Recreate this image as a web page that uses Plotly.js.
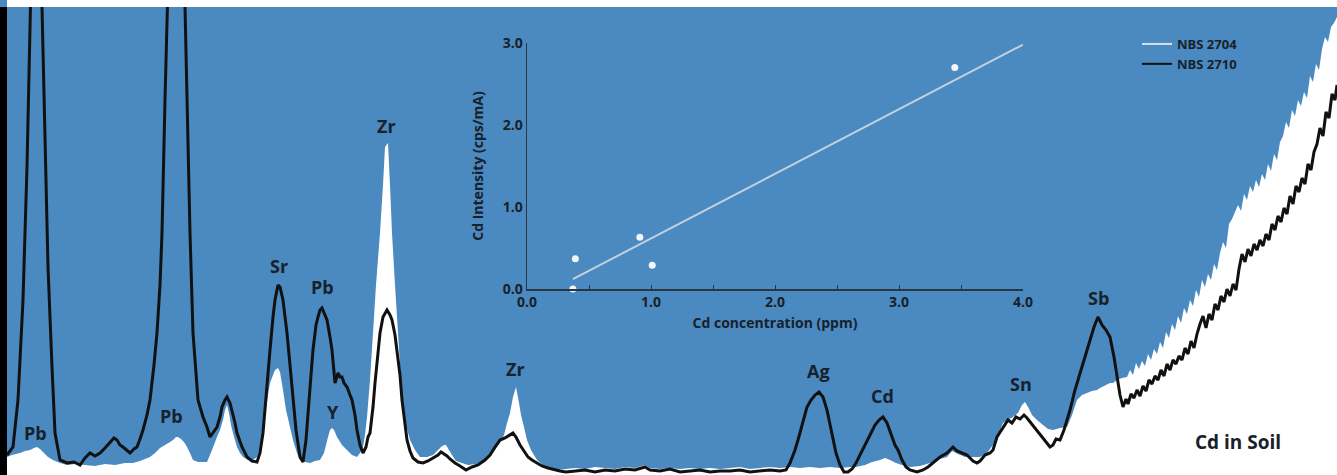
<!DOCTYPE html>
<html>
<head>
<meta charset="utf-8">
<script src="https://cdn.plot.ly/plotly-3.0.1.min.js"></script>
<style>
html,body{margin:0;padding:0;background:#fff;}
#chart{width:1337px;height:475px;}
</style>
</head>
<body>
<div id="chart"></div>
<script>
// ---- Spectrum data (channel, intensity in arbitrary counts) ----
const ch2704 = [7,12,20,25,30,34,37,40,43,48,53,60,67,75,85,95,105,115,125,133,140,145,150,155,160,165,170,173,176,178,181,184,187,190,193,198,203,207,212,217,220,223,225,227,229,231,233,237,240,243,248,253,257,260,263,266,268,270,273,275,278,280,283,286,290,293,297,300,305,310,315,320,324,328,330,332,334,337,342,347,352,357,360,363,365,367,370,373,376,380,383,385,388,390,392,395,398,400,403,406,410,415,420,427,433,438,441,444,446,449,452,456,462,468,475,483,490,495,500,504,507,510,513,516,519,521,524,527,531,537,543,550,558,566,575,585,595,605,615,625,635,645,650,660,670,680,690,700,710,720,730,740,750,760,770,780,790,800,810,820,830,840,850,856,865,872,880,885,890,896,902,910,920,930,940,947,952,958,965,972,980,987,993,998,1003,1008,1013,1018,1022,1025,1028,1032,1037,1043,1048,1053,1060,1067,1072,1077,1082,1087,1092,1097,1100,1106,1110,1113,1117,1122,1127,1130,1133,1136,1139,1142,1145,1148,1151,1154,1157,1160,1163,1166,1169,1172,1175,1178,1181,1184,1187,1190,1193,1196,1199,1202,1205,1208,1211,1214,1217,1220,1223,1226,1229,1232,1235,1238,1241,1244,1247,1250,1253,1256,1259,1262,1265,1268,1271,1274,1277,1280,1283,1286,1289,1292,1295,1298,1301,1304,1307,1310,1313,1316,1319,1322,1325,1328,1331,1334,1337];
const int2704 = [18,20,22,24,25,27,28,26,23,18,15,12,10,11,10,9,11,10,12,12,14,16,18,22,27,30,33,35,38,38,36,33,28,22,15,13,13,13,25,38,45,55,65,70,62,50,42,28,22,18,15,15,18,25,42,65,80,92,100,105,107,103,85,65,48,35,22,15,13,12,14,15,22,38,45,47,45,38,30,25,20,18,22,28,40,58,95,142,190,242,290,328,332,290,242,190,142,110,75,50,35,25,18,18,20,25,28,30,30,25,20,14,12,10,11,12,18,25,32,40,52,62,78,88,72,60,48,35,25,15,10,7,5,6,7,6,8,7,6,8,7,10,7,6,7,6,7,6,7,6,7,8,6,7,8,7,8,7,8,7,8,7,8,8,10,13,15,17,15,12,10,8,9,12,16,18,24,21,18,18,18,22,30,40,52,55,58,62,70,73,68,60,55,50,46,45,47,48,60,75,80,82,84,85,87,90,92,92,95,97,98,105,100,112,106,114,109,121,115,126,121,133,127,143,137,151,145,159,152,167,161,175,169,185,178,195,188,201,195,211,205,222,233,227,251,256,263,270,264,281,275,289,283,295,288,301,295,311,304,321,315,333,339,353,347,365,359,375,369,383,377,399,393,411,405,426,438,433,448,452,458];

const ch2710 = [7,13,18,23,27,30,36,42,45,48,52,55,60,67,74,80,85,90,95,100,105,110,114,117,120,123,127,130,134,137,140,143,147,150,154,157,160,162,165,168,176,185,187,190,193,198,203,207,210,213,217,220,222,225,227,230,232,235,237,242,247,252,257,260,263,266,270,273,275,278,280,283,287,290,293,296,300,303,306,308,311,313,316,318,320,322,325,327,330,332,335,337,338,340,342,344,347,350,352,355,357,360,363,366,368,370,373,375,378,380,383,387,390,392,395,397,400,402,405,407,410,413,418,423,428,433,438,441,444,447,450,455,460,466,472,478,485,490,495,500,505,510,513,516,520,524,528,532,537,542,548,555,560,566,575,585,595,605,615,625,635,645,650,660,670,680,690,700,710,720,730,740,750,760,770,780,786,790,795,798,803,807,811,815,819,823,827,831,836,840,844,848,852,856,860,865,869,875,879,883,887,891,895,898,902,906,910,917,923,928,933,940,947,953,957,962,967,973,977,980,985,990,993,997,1003,1008,1012,1016,1020,1024,1027,1031,1037,1042,1047,1050,1053,1056,1060,1064,1067,1070,1075,1080,1085,1088,1090,1094,1098,1102,1106,1110,1114,1117,1120,1123,1126,1128,1131,1134,1137,1140,1143,1146,1149,1152,1155,1158,1161,1164,1167,1170,1173,1176,1179,1182,1185,1188,1191,1194,1197,1200,1203,1206,1209,1212,1215,1218,1221,1224,1227,1230,1233,1236,1239,1242,1245,1248,1251,1254,1257,1260,1263,1266,1269,1272,1275,1278,1281,1284,1287,1290,1293,1296,1299,1302,1305,1308,1311,1314,1317,1320,1323,1326,1329,1332,1335,1337];
const int2710 = [20,28,75,175,308,442,725,468,342,208,108,42,15,12,13,10,17,22,19,22,27,32,37,35,30,28,24,22,26,28,36,45,60,75,110,142,190,242,375,468,800,468,375,242,142,75,58,48,38,42,48,58,68,75,78,72,65,52,42,28,18,14,13,22,42,80,125,158,175,190,188,175,142,110,75,45,18,13,35,58,100,125,150,158,165,167,160,155,138,125,92,100,102,98,98,92,88,80,75,60,45,30,22,28,38,42,68,92,125,142,158,165,160,155,140,125,100,75,50,35,24,17,13,12,14,17,20,23,21,19,16,12,9,5,8,10,15,20,28,35,37,40,42,38,30,24,18,15,12,9,7,5,4,3,4,5,3,5,4,6,5,8,5,4,6,3,4,5,3,4,4,5,3,4,5,4,5,12,25,35,55,68,75,80,83,78,65,45,22,10,3,3,6,12,20,30,38,50,55,58,52,42,30,25,15,8,5,3,5,8,12,18,22,28,24,22,20,14,12,14,20,22,25,38,48,55,52,58,56,60,57,52,45,38,32,28,30,36,35,45,55,65,85,102,118,130,135,148,158,150,145,138,118,98,80,68,76,71,81,77,85,79,89,84,95,91,99,95,105,99,111,105,115,111,119,115,127,121,134,127,141,151,159,147,161,155,171,165,179,173,186,179,191,185,206,221,213,226,219,231,225,235,229,241,235,251,245,259,253,267,261,279,271,289,283,297,291,311,305,323,331,347,339,363,357,381,375,390];

// ---- Peak labels ----
const peakNames = ["Pb","Pb","Sr","Pb","Y","Zr","Zr","Ag","Cd","Sn","Sb"];
const peakCh    = [35, 171, 279, 322, 333, 386, 515, 818, 882, 1021, 1098];
const peakLblY  = [42, 59, 209, 188, 63, 349, 106, 104, 79, 91, 177];

// ---- Calibration inset data ----
const cdConc   = [0.37, 0.39, 0.91, 1.01, 3.45];
const cdInt    = [0.00, 0.37, 0.63, 0.29, 2.70];
const fitConc  = [0.37, 4.0];
const fitInt   = [0.12, 2.98];
const concTicks = [0, 1, 2, 3, 4];
const intTicks  = [0, 1, 2, 3];

const BLUE = '#4a8ac0';
const INK = '#18212b';
const FONT = '"Open Sans", "DejaVu Sans", sans-serif';

const traces = [
  {x: ch2704, y: int2704, xaxis:'x', yaxis:'y', type:'scatter', mode:'none',
   fill:'tozeroy', fillcolor:'#ffffff', showlegend:false, hoverinfo:'skip'},
  {x: ch2710, y: int2710, xaxis:'x', yaxis:'y', type:'scatter', mode:'lines',
   line:{color:'#111111', width:3}, showlegend:false, hoverinfo:'skip'},
  {x: fitConc, y: fitInt, xaxis:'x2', yaxis:'y2', type:'scatter', mode:'lines',
   line:{color:'#c3d0dd', width:2}, showlegend:false},
  {x: cdConc, y: cdInt, xaxis:'x2', yaxis:'y2', type:'scatter', mode:'markers',
   marker:{color:'#f3f5f7', size:7, symbol:'circle'}, showlegend:false, cliponaxis:false},
  // legend entries
  {x:[null], y:[null], xaxis:'x', yaxis:'y', type:'scatter', mode:'lines',
   name:'<b>NBS 2704</b>', line:{color:'#d6e2ee', width:2}},
  {x:[null], y:[null], xaxis:'x', yaxis:'y', type:'scatter', mode:'lines',
   name:'<b>NBS 2710</b>', line:{color:'#111111', width:2}}
];

const annotations = peakNames.map((n,i)=>({
  x: peakCh[i], y: peakLblY[i], xref:'x', yref:'y', text:'<b>'+n+'</b>',
  showarrow:false, font:{family:FONT, size:18, color:INK}
}));
annotations.push({x:1238, y:33, xref:'x', yref:'y', text:'<b>Cd in Soil</b>',
  showarrow:false, font:{family:FONT, size:19, color:INK}});

const W = 1337, H = 475, L = 7, T = 7;
const pw = W - L, ph = H - T;
const bold = v => '<b>' + v.toFixed(1) + '</b>';

const layout = {
  width: W, height: H,
  margin:{l:L, r:0, t:T, b:0, pad:0},
  paper_bgcolor:'#ffffff', plot_bgcolor: BLUE,
  showlegend:true,
  legend:{x:(1137-L)/pw, xanchor:'left', y:(H-29)/ph, yanchor:'top',
    bgcolor:'rgba(0,0,0,0)', borderwidth:0, tracegroupgap:0,
    font:{family:FONT, size:13, color:INK}},
  xaxis:{range:[7,1337], visible:false, fixedrange:true},
  yaxis:{range:[0,468], visible:false, fixedrange:true},
  xaxis2:{anchor:'y2', domain:[(527-L)/pw, (1023-L)/pw], range:[0,4],
    showline:true, linecolor:'#2a3642', linewidth:1.5, showgrid:false, zeroline:false,
    tickvals:concTicks, ticktext:concTicks.map(bold), ticks:'inside', ticklen:4, tickcolor:'#2a3642',
    minor:{dtick:0.5, ticks:'inside', ticklen:4, tickcolor:'#2a3642'},
    tickfont:{family:FONT, size:14, color:INK},
    title:{text:'<b>Cd concentration (ppm)</b>', standoff:8, font:{family:FONT, size:14, color:INK}}},
  yaxis2:{anchor:'x2', domain:[(H-289)/ph, (H-43)/ph], range:[0,3],
    showline:true, linecolor:'#2a3642', linewidth:1.5, showgrid:false, zeroline:false,
    tickvals:intTicks, ticktext:intTicks.map(bold), ticks:'',
    tickfont:{family:FONT, size:14, color:INK},
    title:{text:'<b>Cd Intensity (cps/mA)</b>', standoff:16, font:{family:FONT, size:14, color:INK}}},
  shapes:[
    {type:'rect', xref:'paper', yref:'paper', x0:-L/pw, x1:0, y0:0, y1:1,
     fillcolor:'#000000', line:{width:0}, layer:'above'},
    {type:'rect', xref:'paper', yref:'paper', x0:-L/pw, x1:0, y0:1, y1:1+T/ph,
     fillcolor:BLUE, line:{width:0}, layer:'above'}
  ],
  annotations: annotations
};

Plotly.newPlot('chart', traces, layout, {displayModeBar:false, staticPlot:true});
</script>
</body>
</html>
